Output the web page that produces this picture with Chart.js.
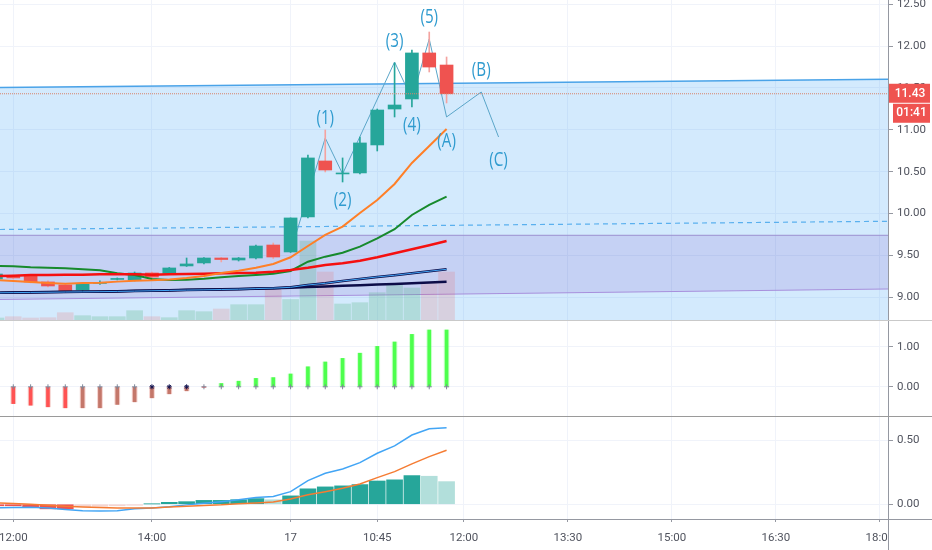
<!DOCTYPE html>
<html><head><meta charset="utf-8">
<style>
html,body{margin:0;padding:0;background:#fff;overflow:hidden}
#wrap{position:relative;width:932px;height:550px}
canvas{position:absolute;left:0;display:block}
</style>
<script src="https://cdn.jsdelivr.net/npm/chart.js@4"></script>
</head><body>
<div id="wrap">
<canvas id="c1" width="932" height="320" style="top:0"></canvas>
<canvas id="c2" width="932" height="96" style="top:320px"></canvas>
<canvas id="c3" width="932" height="134" style="top:416px"></canvas>
</div>
<script>
// bar positions: one bar per 15 minutes, index 0 is the 12:00 bar
const barIndex=[-1,0,1,2,3,4,5,6,7,8,9,10,11,12,13,14,15,16,17,18,19,20,21,22,23,24,25];
const opens =[9.220,9.250,9.255,9.184,9.148,9.088,9.166,9.214,9.208,9.291,9.285,9.375,9.411,9.470,9.446,9.470,9.625,9.542,9.960,10.628,10.473,10.485,10.819,11.248,11.368,11.917,11.773];
const highs =[9.291,9.267,9.267,9.196,9.160,9.172,9.196,9.232,9.303,9.303,9.357,9.470,9.476,9.476,9.476,9.625,9.649,9.948,10.699,10.998,10.664,10.914,11.248,11.797,11.952,12.167,11.869];
const lows  =[9.208,9.220,9.172,9.124,9.065,9.076,9.154,9.208,9.196,9.232,9.279,9.369,9.399,9.423,9.434,9.458,9.464,9.536,9.948,10.497,10.377,10.473,10.747,11.153,11.272,11.690,11.320];
const closes=[9.279,9.232,9.184,9.136,9.076,9.160,9.178,9.226,9.291,9.243,9.351,9.399,9.470,9.452,9.470,9.613,9.482,9.948,10.664,10.520,10.485,10.843,11.236,11.296,11.917,11.749,11.43];
const volumes=[2,3.3,2,2.3,7.3,4.3,3.3,3.3,9.3,3.3,2.3,9.3,8.3,11,15.3,15.3,32,20.5,79,48,16,17.3,27.3,36,32,37,48];
const maOrange=[9.208,9.196,9.184,9.172,9.164,9.172,9.176,9.188,9.199,9.204,9.214,9.232,9.255,9.291,9.319,9.354,9.399,9.479,9.613,9.745,9.844,10.007,10.162,10.353,10.604,10.807,11.010];
const maGreen=[9.375,9.371,9.359,9.354,9.347,9.335,9.323,9.288,9.267,9.220,9.208,9.211,9.223,9.240,9.255,9.267,9.283,9.315,9.426,9.486,9.533,9.605,9.705,9.813,9.983,10.103,10.202];
const maRed=[9.255,9.259,9.267,9.267,9.271,9.271,9.276,9.276,9.276,9.271,9.276,9.279,9.283,9.288,9.291,9.295,9.306,9.327,9.354,9.387,9.407,9.438,9.479,9.526,9.574,9.622,9.673];
const maNavy=[9.056,9.059,9.061,9.063,9.066,9.068,9.070,9.074,9.078,9.082,9.086,9.090,9.093,9.097,9.100,9.104,9.109,9.115,9.124,9.130,9.139,9.146,9.153,9.160,9.170,9.178,9.186];
const maBlue=[9.054,9.057,9.059,9.061,9.064,9.066,9.068,9.071,9.075,9.079,9.083,9.087,9.090,9.094,9.098,9.105,9.110,9.120,9.148,9.168,9.196,9.220,9.244,9.264,9.288,9.312,9.335];
const squeeze=[-0.40,-0.42,-0.46,-0.50,-0.525,-0.525,-0.525,-0.44,-0.375,-0.275,-0.175,-0.10,-0.005,0.083,0.14,0.21,0.23,0.32,0.50,0.62,0.71,0.84,1.01,1.12,1.31,1.42,1.42];
const macdHist=[-0.012,-0.012,-0.02,-0.036,-0.036,-0.018,-0.016,-0.012,-0.008,0.002,0.015,0.02,0.03,0.03,0.035,0.044,0.035,0.065,0.12,0.135,0.143,0.153,0.181,0.19,0.223,0.218,0.176];
const macdLine=[-0.028,-0.026,-0.023,-0.029,-0.041,-0.05,-0.052,-0.05,-0.036,-0.029,-0.02,-0.005,0.008,0.02,0.034,0.052,0.06,0.098,0.184,0.241,0.275,0.324,0.397,0.454,0.539,0.588,0.596];
const macdSignal=[0.01,0.005,0,-0.008,-0.016,-0.021,-0.026,-0.029,-0.029,-0.029,-0.021,-0.016,-0.01,-0.005,0.003,0.01,0.018,0.041,0.073,0.098,0.124,0.158,0.207,0.254,0.314,0.371,0.42];
// drawn trend lines, from the left edge to the right edge of the pane
const xRange=[-0.767,50.47];
const upperTrend=[11.505,11.603];
const dashedTrend=[9.810,9.908];
const purpleTop=[9.741,9.741];
const purpleBottom=[8.975,9.100];
const lastClose=11.43, countdown='01:41';
// hand-drawn wave
const waveX=[16,18,19,22,23,24,25,27,28];
const waveY=[9.542,10.902,10.473,11.809,11.368,12.084,11.153,11.451,10.914];
const waveLabels=['(1)','(2)','(3)','(4)','(5)','(A)','(B)','(C)'];
const waveLabelX=[18,19,22,23,24,25,27,28];
const waveLabelY=[11.141,10.162,12.060,11.057,12.346,10.866,11.714,10.640];
// axes
const timeTicks=[0,8,16,21,26,32,38,44,50];
const timeLabels=['12:00','14:00','17','10:45','12:00','13:30','15:00','16:30','18:00'];
const priceTicks=[9,9.5,10,10.5,11,11.5,12,12.5];
const squeezeTicks=[0,1];
const macdTicks=[0,0.5];

const TEAL='#26a69a',RED='#ef5350',AXIS='#9598a1',GRID='#f0f3fa',TEXT='#50535e';
const FONT='Roboto, "Open Sans", sans-serif';
const pts=a=>barIndex.map((x,i)=>({x,y:a[i]}));
const edge=a=>xRange.map((x,i)=>({x,y:a[i]}));
const line=(data,color,width,order,extra)=>Object.assign({type:'line',data,borderColor:color,borderWidth:width,pointRadius:0,tension:0,order,fill:false},extra||{});
const noPad=s=>{s.paddingLeft=s.paddingRight=s.paddingTop=s.paddingBottom=0;};

function xScale(withAxis){
  return {type:'linear',min:xRange[0],max:xRange[1],offset:false,
    afterBuildTicks:s=>{s.ticks=timeTicks.map(value=>({value}));},
    afterFit:s=>{s.height=withAxis?31:0;noPad(s);},
    grid:{color:GRID,offset:false,drawTicks:withAxis,tickLength:3,tickColor:AXIS,lineWidth:1},
    border:{display:withAxis,color:AXIS},
    ticks:{display:withAxis,autoSkip:false,maxRotation:0,padding:9,color:TEXT,font:{family:FONT,size:11.5},
      callback:v=>timeLabels[timeTicks.indexOf(v)]}};
}
function yScale(min,max,ticks){
  return {position:'right',min,max,
    afterFit:s=>{s.width=44;noPad(s);},
    afterBuildTicks:s=>{s.ticks=ticks.map(value=>({value}));},
    grid:{color:GRID,tickColor:AXIS,tickLength:5,lineWidth:1},
    border:{color:AXIS},
    ticks:{padding:4,color:TEXT,font:{family:FONT,size:11.5},callback:v=>Number(v).toFixed(2)}};
}
const base={responsive:false,animation:false,devicePixelRatio:1,
  layout:{padding:0,autoPadding:false},events:[],plugins:{legend:{display:false},tooltip:{enabled:false}}};

const annotate={id:'annotate',afterDraw(c){
  const g=c.ctx,x=c.scales.x,y=c.scales.y;
  g.save();
  g.fillStyle='#2f9bcf';g.textAlign='center';g.textBaseline='middle';
  g.font='20px "Open Sans", sans-serif';
  waveLabels.forEach((t,i)=>{
    g.save();
    g.translate(x.getPixelForValue(waveLabelX[i]),y.getPixelForValue(waveLabelY[i]));
    g.scale(0.76,1);
    g.fillText(t,0,0);
    g.restore();
  });
  g.fillStyle=RED;
  const py=y.getPixelForValue(lastClose);
  g.fillRect(889,py-10,41,19);
  g.fillRect(893,py+10,37,19);
  g.fillStyle='#fff';g.font='500 12px '+FONT;
  g.fillText(lastClose.toFixed(2),910,py);
  g.fillText(countdown,911.5,py+19.5);
  g.restore();
}};
function frame(topColor,bottomExt){return {id:'frame',afterDraw(c){
  const g=c.ctx,a=c.chartArea;
  g.save();
  if(bottomExt){g.fillStyle='#fff';g.fillRect(a.right+1,a.bottom+1,c.width-a.right,c.height-a.bottom);
    g.fillStyle=AXIS;g.fillRect(a.right,a.bottom,1,c.height-a.bottom);g.fillRect(0,a.bottom,c.width,1);}
  if(topColor){g.fillStyle=topColor;g.fillRect(0,0,c.width,1);}
  g.restore();
}};}

// price pane
new Chart(document.getElementById('c1'),{
  data:{datasets:[
    line(edge(upperTrend),'#4aa3e8',1.5,30,{fill:{value:8.6},backgroundColor:'rgba(33,150,243,0.2)'}),
    line(edge(purpleTop),'#9c8fd0',1,29,{fill:'+1',backgroundColor:'rgba(103,58,183,0.14)'}),
    line(edge(purpleBottom),'#a78fdc',1,28),
    line(edge(dashedTrend),'#5ab0ee',1.2,27,{borderDash:[5,4]}),
    {type:'bar',yAxisID:'v',data:pts(volumes),grouped:false,barThickness:16,order:20,
      backgroundColor:barIndex.map((_,i)=>closes[i]>=opens[i]?'rgba(70,175,120,0.25)':'rgba(239,83,80,0.17)')},
    line(waveX.map((x,i)=>({x,y:waveY[i]})),'#5aa5c8',1,15),
    {type:'bar',data:pts(barIndex.map((_,i)=>[lows[i],highs[i]])),grouped:false,barThickness:1,order:12,borderSkipped:false,
      backgroundColor:barIndex.map((_,i)=>closes[i]>=opens[i]?TEAL:'#f4a3a0')},
    {type:'bar',data:pts(barIndex.map((_,i)=>[opens[i],closes[i]])),grouped:false,barThickness:13,order:11,borderSkipped:false,
      backgroundColor:barIndex.map((_,i)=>closes[i]>=opens[i]?TEAL:RED)},
    line(edge([lastClose,lastClose]),'#d8836a',1,9,{borderDash:[1,1]}),
    line(pts(maNavy),'#0c0c48',2.5,8),
    line(pts(maBlue),'#0c0c48',2.5,7),
    line(pts(maBlue),'#42a5f5',1,6),
    line(pts(maGreen),'#178a2c',2,5),
    line(pts(maRed),'#f51010',2.5,4),
    line(pts(maOrange),'#ff7f27',2,3)
  ]},
  options:Object.assign({},base,{scales:{
    x:xScale(false),
    y:yScale(8.73,12.549,priceTicks),
    v:{display:false,min:0,max:320}
  }}),
  plugins:[annotate]
});

// oscillator pane
const squeezeColors=barIndex.map((_,i)=>squeeze[i]>=0?'#4dff4d':(i>=6&&i<=11)||i==5?'#c4776a':'#ff5252');
new Chart(document.getElementById('c2'),{
  data:{datasets:[
    {type:'bar',data:pts(squeeze),grouped:false,barThickness:5,order:5,backgroundColor:barIndex.map((_,i)=>squeeze[i]>=0?'rgba(77,255,77,0.25)':'rgba(224,120,110,0.35)')},
    {type:'bar',data:pts(squeeze),grouped:false,barThickness:3,order:4,backgroundColor:squeezeColors},
    {type:'line',data:pts(barIndex.map(()=>0)),showLine:false,order:1,borderWidth:1,
      pointStyle:barIndex.map(i=>i>=8&&i<=10?'star':'cross'),pointRadius:2.5,
      pointBorderColor:barIndex.map(i=>i>=8&&i<=10?'#12124e':'#7f8799'),pointBorderWidth:1}
  ]},
  options:Object.assign({},base,{scales:{x:xScale(false),y:yScale(-0.73,1.67,squeezeTicks)}}),
  plugins:[frame('#c9c9c9',false)]
});

// MACD pane
const histColors=barIndex.map((_,i)=>{
  const v=macdHist[i],p=i?macdHist[i-1]:v;
  if(v>=0) return v>=p?TEAL:'#b2dfdb';
  return v<=p?RED:'#f6d4ce';
});
new Chart(document.getElementById('c3'),{
  data:{datasets:[
    {type:'bar',data:pts(macdHist),grouped:false,barThickness:16,order:5,backgroundColor:histColors},
    line(pts(macdLine),'#42a5f5',1.5,2),
    line(pts(macdSignal),'#f57c33',1.5,1)
  ]},
  options:Object.assign({},base,{scales:{x:xScale(true),y:yScale(-0.115,0.687,macdTicks)}}),
  plugins:[frame('#9a9a9a',true)]
});
</script>
</body></html>
